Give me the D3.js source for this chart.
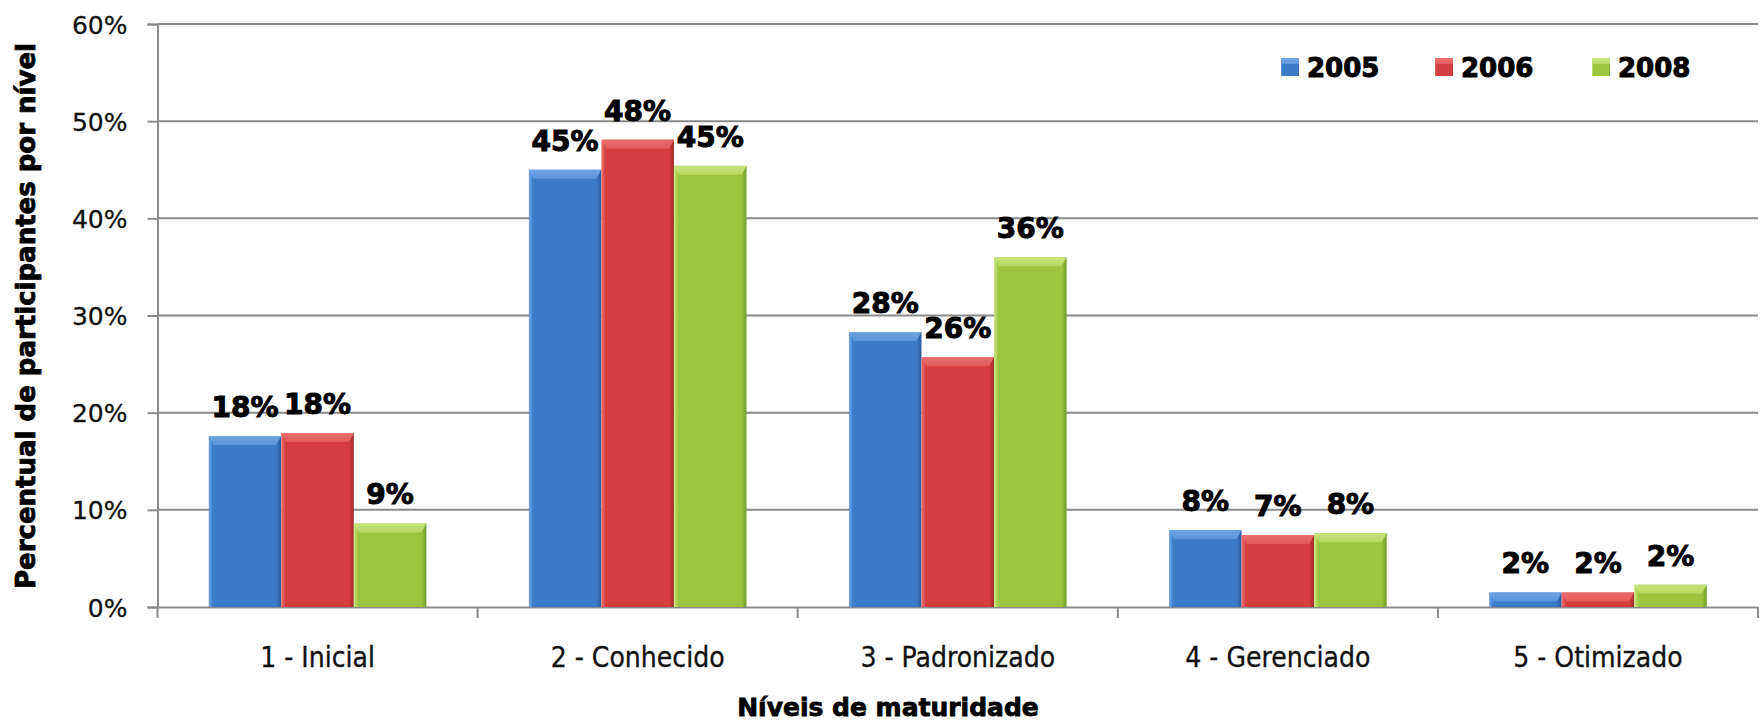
<!DOCTYPE html>
<html>
<head>
<meta charset="utf-8">
<script src="https://cdn.jsdelivr.net/npm/d3@7"></script>
<style>
  html, body { margin: 0; padding: 0; background: #fff; }
  svg { display: block; }
</style>
</head>
<body>
<svg id="chart" width="1761" height="721"></svg>
<script>
const categories = ["1 - Inicial", "2 - Conhecido", "3 - Padronizado", "4 - Gerenciado", "5 - Otimizado"];
const seriesNames = ["2005", "2006", "2008"];
const values2005 = [0.176, 0.450, 0.283, 0.079, 0.015];
const values2006 = [0.179, 0.481, 0.257, 0.074, 0.015];
const values2008 = [0.086, 0.454, 0.360, 0.076, 0.023];
const labels2005 = ["18%", "45%", "28%", "8%", "2%"];
const labels2006 = ["18%", "48%", "26%", "7%", "2%"];
const labels2008 = ["9%", "45%", "36%", "8%", "2%"];
const yTicks = [0, 0.1, 0.2, 0.3, 0.4, 0.5, 0.6];
const yTitle = "Percentual de participantes por nível";
const xTitle = "Níveis de maturidade";

(function () {
const palette = {
  "2005": { base: "#3C7BC8", light: "#74A8E8", dark: "#295A9C", top: "#5F98DE" },
  "2006": { base: "#D43E3E", light: "#EE7272", dark: "#A32A2A", top: "#E35D5D" },
  "2008": { base: "#9CC53F", light: "#CDE885", dark: "#759A28", top: "#B7DA62" }
};

const seriesVals = [values2005, values2006, values2008];
const seriesLabels = [labels2005, labels2006, labels2008];
const data = [];
categories.forEach((c, i) => {
  seriesNames.forEach((s, j) => {
    data.push({ cat: c, series: s, value: seriesVals[j][i], label: seriesLabels[j][i] });
  });
});

const svg = d3.select("#chart");
const mLeft = 157.5, mRight = 1758, mTop = 24, mBottom = 607;

const x0 = d3.scaleBand().domain(categories).range([mLeft, mRight]).paddingInner(0.32).paddingOuter(0.16);
const x1 = d3.scaleBand().domain(seriesNames).range([0, x0.bandwidth()]).padding(0);
const y = d3.scaleLinear().domain([0, 0.6]).range([mBottom, mTop]);

// gradients
const defs = svg.append("defs");
seriesNames.forEach(s => {
  const p = palette[s];
  const g = defs.append("linearGradient").attr("id", "g" + s).attr("x1", "0").attr("x2", "1").attr("y1", "0").attr("y2", "0");
  g.append("stop").attr("offset", "0%").attr("stop-color", p.light);
  g.append("stop").attr("offset", "6%").attr("stop-color", p.base);
  g.append("stop").attr("offset", "93%").attr("stop-color", p.base);
  g.append("stop").attr("offset", "100%").attr("stop-color", p.dark);
  const t = defs.append("linearGradient").attr("id", "t" + s).attr("x1", "0").attr("x2", "0").attr("y1", "0").attr("y2", "1");
  t.append("stop").attr("offset", "0%").attr("stop-color", p.light);
  t.append("stop").attr("offset", "100%").attr("stop-color", p.top);
});

// gridlines
svg.append("g")
  .selectAll("line")
  .data(yTicks.filter(t => t > 0))
  .join("line")
  .attr("x1", mLeft).attr("x2", mRight)
  .attr("y1", d => y(d)).attr("y2", d => y(d))
  .attr("stroke", "#8A8A8A").attr("stroke-width", 2);

// y axis
const yAxis = d3.axisLeft(y).tickValues(yTicks).tickFormat(d3.format(".0%")).tickSize(10).tickPadding(20);
const yg = svg.append("g").attr("transform", `translate(${mLeft},0)`).call(yAxis);
yg.select(".domain").attr("stroke", "#8A8A8A").attr("stroke-width", 2);
yg.selectAll(".tick line").attr("stroke", "#8A8A8A").attr("stroke-width", 2);
yg.selectAll(".tick text").attr("font-family", "DejaVu Sans, Verdana, sans-serif").attr("font-size", 25)
  .attr("fill", "#111").attr("stroke", "#111").attr("stroke-width", 0.3).attr("dy", "0.36em");

// x axis
const xAxis = d3.axisBottom(x0).tickSize(0).tickPadding(40);
const xg = svg.append("g").attr("transform", `translate(0,${mBottom})`).call(xAxis);
xg.select(".domain").attr("stroke", "#8A8A8A").attr("stroke-width", 2);
xg.selectAll(".tick text").attr("font-family", "DejaVu Sans Condensed, DejaVu Sans, sans-serif").attr("font-size", 28)
  .attr("fill", "#111").attr("stroke", "#111").attr("stroke-width", 0.3);
// boundary ticks
const step = x0.step();
const bounds = d3.range(categories.length + 1).map(i => mLeft + i * step);
svg.append("g").selectAll("line").data(bounds).join("line")
  .attr("x1", d => d).attr("x2", d => d)
  .attr("y1", mBottom).attr("y2", mBottom + 11)
  .attr("stroke", "#8A8A8A").attr("stroke-width", 2);

// bars
const bars = svg.append("g").selectAll("g").data(data).join("g")
  .attr("transform", d => `translate(${x0(d.cat) + x1(d.series)},0)`);
bars.append("rect")
  .attr("x", 0).attr("width", x1.bandwidth())
  .attr("y", d => y(d.value)).attr("height", d => y(0) - y(d.value))
  .attr("fill", d => `url(#g${d.series})`);
bars.append("path")
  .attr("d", d => {
    const w = x1.bandwidth(), h = Math.min(9, y(0) - y(d.value)), t = y(d.value);
    return `M0,${t}L${w},${t}L${w - 5},${t + h}L5,${t + h}Z`;
  })
  .attr("fill", d => `url(#t${d.series})`).attr("opacity", 0.9);

// data labels
bars.append("text")
  .attr("x", x1.bandwidth() / 2)
  .attr("y", d => y(d.value) - 19)
  .attr("text-anchor", "middle")
  .attr("font-family", "DejaVu Sans, Verdana, sans-serif")
  .attr("font-weight", "bold").attr("font-size", 28).attr("fill", "#000")
  .attr("stroke", "#000").attr("stroke-width", 1)
  .text(d => d.label);

// legend
const legendX = [1281, 1435, 1592];
const lg = svg.append("g").selectAll("g").data(seriesNames).join("g")
  .attr("transform", (d, i) => `translate(${legendX[i]},58)`);
lg.append("rect").attr("width", 18).attr("height", 18).attr("fill", d => `url(#g${d})`);
lg.append("rect").attr("width", 18).attr("height", 6).attr("fill", d => `url(#t${d})`);
lg.append("text").attr("x", 26).attr("y", 19)
  .attr("font-family", "DejaVu Sans, Verdana, sans-serif")
  .attr("font-weight", "bold").attr("font-size", 26).attr("fill", "#000")
  .attr("stroke", "#000").attr("stroke-width", 1)
  .text(d => d);

// axis titles
svg.append("text")
  .attr("transform", `translate(35,316) rotate(-90)`)
  .attr("text-anchor", "middle")
  .attr("font-family", "DejaVu Sans, Verdana, sans-serif")
  .attr("font-weight", "bold").attr("font-size", 26).attr("fill", "#000")
  .attr("stroke", "#000").attr("stroke-width", 0.8)
  .text(yTitle);
svg.append("text")
  .attr("x", 888).attr("y", 716)
  .attr("text-anchor", "middle")
  .attr("font-family", "DejaVu Sans, Verdana, sans-serif")
  .attr("font-weight", "bold").attr("font-size", 25).attr("fill", "#000")
  .attr("stroke", "#000").attr("stroke-width", 0.8)
  .text(xTitle);
})();
</script>
</body>
</html>
